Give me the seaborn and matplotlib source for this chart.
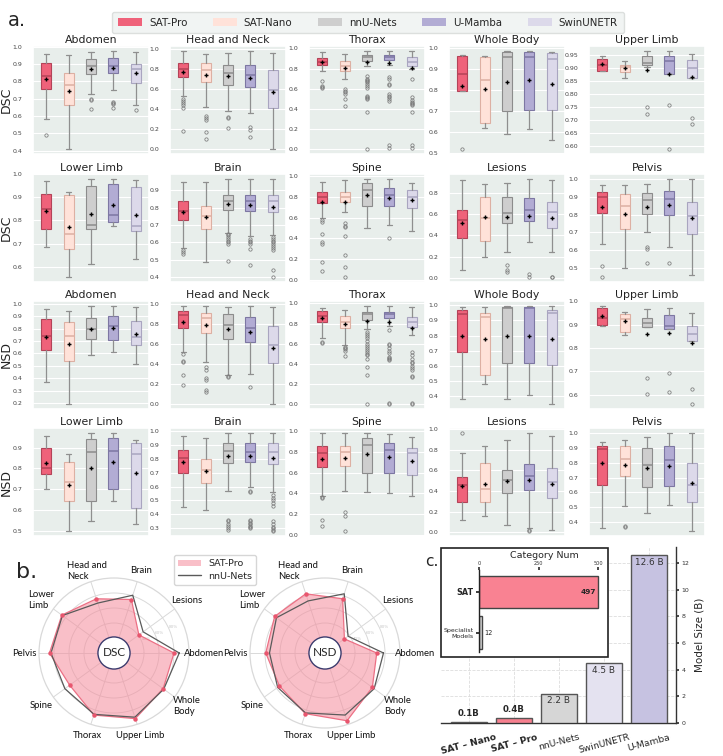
import numpy as np
import matplotlib
matplotlib.use('Agg')
import matplotlib.pyplot as plt
import seaborn as sns
from matplotlib.patches import Patch, Rectangle, Circle
from matplotlib.lines import Line2D
from matplotlib.ticker import MaxNLocator

# ---------------- data ----------------
models = ['SAT-Pro', 'SAT-Nano', 'nnU-Nets', 'U-Mamba', 'SwinUNETR']
box_colors = ['#EF627A', '#FFE2D9', '#CECECE', '#B2ACD4', '#DCD9EA']
median_colors = ['#B44358', '#DDB0A3', '#8C8C8C', '#7D77A3', '#A9A5C0']

regions_row1 = ['Abdomen', 'Head and Neck', 'Thorax', 'Whole Body', 'Upper Limb']
regions_row2 = ['Lower Limb', 'Brain', 'Spine', 'Lesions', 'Pelvis']

# box stats per model: (whislo, q1, median, q3, whishi, mean)
dsc_abdomen = [(0.585, 0.755, 0.83, 0.905, 0.96, 0.815), (0.41, 0.665, 0.78, 0.85, 0.95, 0.745),
               (0.725, 0.84, 0.89, 0.93, 0.97, 0.87), (0.75, 0.845, 0.89, 0.935, 0.975, 0.875),
               (0.665, 0.79, 0.87, 0.90, 0.97, 0.845)]
dsc_abdomen_out = [[0.49], [], [0.70, 0.69, 0.64], [0.68, 0.675, 0.67, 0.645], [0.635]]

dsc_headneck = [(0.53, 0.715, 0.80, 0.855, 0.98, 0.77), (0.42, 0.67, 0.785, 0.855, 0.945, 0.735),
                (0.385, 0.635, 0.76, 0.835, 0.955, 0.725), (0.365, 0.62, 0.74, 0.84, 0.975, 0.705),
                (0.0, 0.415, 0.585, 0.79, 0.955, 0.565)]
dsc_headneck_out = [[0.50, 0.48, 0.46, 0.44, 0.41, 0.18], [0.33, 0.31, 0.29, 0.17, 0.10],
                    [0.32, 0.31, 0.21], [0.22, 0.19, 0.12], []]

dsc_thorax = [(0.775, 0.835, 0.865, 0.90, 0.96, 0.865), (0.695, 0.78, 0.83, 0.875, 0.945, 0.81),
              (0.83, 0.875, 0.91, 0.935, 0.975, 0.86), (0.84, 0.88, 0.91, 0.935, 0.97, 0.85),
              (0.80, 0.825, 0.865, 0.91, 0.97, 0.805)]
dsc_thorax_out = [[0.68, 0.63, 0.62, 0.61], [0.60, 0.58, 0.57, 0.55, 0.50, 0.43],
                  [0.73, 0.70, 0.69, 0.68, 0.67, 0.65, 0.63, 0.61, 0.53, 0.52, 0.51, 0.50, 0.37, 0.0],
                  [0.72, 0.70, 0.65, 0.64, 0.55, 0.53, 0.52, 0.50, 0.48, 0.04, 0.01],
                  [0.70, 0.52, 0.49, 0.47, 0.46, 0.45, 0.44, 0.37, 0.04, 0.01]]

dsc_wholebody = [(0.795, 0.795, 0.875, 0.96, 0.965, 0.82), (0.62, 0.645, 0.845, 0.955, 0.96, 0.805),
                 (0.59, 0.70, 0.955, 0.98, 0.985, 0.84), (0.615, 0.705, 0.955, 0.98, 0.985, 0.845),
                 (0.565, 0.705, 0.945, 0.975, 0.98, 0.83)]
dsc_wholebody_out = [[0.52], [], [], [], []]

dsc_upperlimb = [(0.888, 0.89, 0.91, 0.935, 0.945, 0.915), (0.862, 0.885, 0.905, 0.91, 0.925, 0.898),
                 (0.905, 0.91, 0.92, 0.945, 0.965, 0.892), (0.875, 0.875, 0.925, 0.945, 0.965, 0.875),
                 (0.86, 0.86, 0.90, 0.93, 0.955, 0.865)]
dsc_upperlimb_out = [[], [], [0.75, 0.725], [0.76, 0.59], [0.71, 0.685]]

dsc_lowerlimb = [(0.685, 0.765, 0.85, 0.915, 0.97, 0.84), (0.555, 0.675, 0.74, 0.91, 0.925, 0.77),
                 (0.61, 0.765, 0.78, 0.95, 0.98, 0.83), (0.775, 0.795, 0.825, 0.96, 0.98, 0.865),
                 (0.635, 0.755, 0.775, 0.945, 0.975, 0.825)]
dsc_lowerlimb_out = [[], [], [], [], []]

dsc_brain = [(0.565, 0.73, 0.78, 0.84, 0.945, 0.775), (0.485, 0.675, 0.75, 0.81, 0.95, 0.745),
             (0.655, 0.785, 0.84, 0.875, 0.965, 0.82), (0.635, 0.78, 0.84, 0.875, 0.965, 0.815),
             (0.64, 0.775, 0.835, 0.875, 0.965, 0.805)]
dsc_brain_out = [[0.555, 0.545, 0.535], [], [0.65, 0.64, 0.63, 0.62, 0.61, 0.60, 0.59, 0.495],
                 [0.62, 0.61, 0.60, 0.59, 0.56, 0.47],
                 [0.63, 0.62, 0.61, 0.60, 0.59, 0.58, 0.57, 0.555, 0.44, 0.40]]

dsc_spine = [(0.60, 0.74, 0.80, 0.84, 0.94, 0.745), (0.655, 0.75, 0.80, 0.84, 0.955, 0.745),
             (0.50, 0.71, 0.865, 0.93, 0.97, 0.815), (0.53, 0.71, 0.82, 0.88, 0.97, 0.785),
             (0.475, 0.695, 0.80, 0.86, 0.935, 0.765)]
dsc_spine_out = [[0.58, 0.56, 0.44, 0.37, 0.35, 0.17, 0.09], [0.55, 0.52, 0.51, 0.42, 0.24, 0.13, 0.03],
                 [], [0.40], []]

dsc_lesions = [(0.075, 0.375, 0.55, 0.64, 0.92, 0.515), (0.20, 0.35, 0.565, 0.76, 0.89, 0.57),
               (0.245, 0.52, 0.61, 0.76, 0.90, 0.575), (0.34, 0.54, 0.645, 0.755, 0.935, 0.585),
               (0.24, 0.47, 0.62, 0.715, 0.925, 0.56)]
dsc_lesions_out = [[], [], [0.12, 0.07, 0.05], [0.03, 0.01], [0.01, 0.005]]

dsc_pelvis = [(0.635, 0.81, 0.90, 0.925, 0.965, 0.84), (0.50, 0.72, 0.85, 0.915, 0.965, 0.805),
              (0.70, 0.805, 0.88, 0.92, 0.97, 0.845), (0.62, 0.80, 0.885, 0.93, 1.0, 0.855),
              (0.46, 0.69, 0.795, 0.87, 1.0, 0.78)]
dsc_pelvis_out = [[0.51, 0.45], [], [0.62, 0.605, 0.53], [0.53], []]

nsd_abdomen = [(0.365, 0.63, 0.745, 0.875, 0.96, 0.73), (0.19, 0.535, 0.745, 0.855, 0.94, 0.675),
               (0.59, 0.72, 0.80, 0.89, 0.985, 0.80), (0.61, 0.71, 0.82, 0.90, 0.985, 0.81),
               (0.515, 0.665, 0.73, 0.86, 0.975, 0.755)]
nsd_abdomen_out = [[], [], [], [], []]

nsd_headneck = [(0.52, 0.76, 0.885, 0.93, 0.98, 0.82), (0.42, 0.705, 0.86, 0.91, 0.975, 0.785),
                (0.295, 0.65, 0.79, 0.895, 0.97, 0.745), (0.305, 0.62, 0.76, 0.87, 0.975, 0.72),
                (0.0, 0.41, 0.59, 0.775, 0.97, 0.56)]
nsd_headneck_out = [[0.50, 0.43, 0.42, 0.29, 0.19], [0.37, 0.34, 0.26, 0.24, 0.14, 0.12],
                    [0.28, 0.27], [0.17], []]

nsd_thorax = [(0.655, 0.815, 0.87, 0.925, 0.95, 0.855), (0.585, 0.755, 0.82, 0.875, 0.935, 0.80),
              (0.75, 0.835, 0.89, 0.915, 0.975, 0.825), (0.78, 0.85, 0.89, 0.91, 0.975, 0.82),
              (0.69, 0.77, 0.82, 0.86, 0.96, 0.755)]
nsd_thorax_out = [[0.62, 0.61], [0.57, 0.56, 0.55, 0.53, 0.48],
                  [0.72, 0.70, 0.68, 0.66, 0.63, 0.60, 0.58, 0.56, 0.54, 0.52, 0.50, 0.49, 0.45, 0.37, 0.29, 0.0],
                  [0.74, 0.60, 0.59, 0.56, 0.53, 0.51, 0.47, 0.46, 0.45, 0.44, 0.01, 0.0],
                  [0.52, 0.49, 0.45, 0.42, 0.41, 0.38, 0.36, 0.34, 0.28, 0.27, 0.01, 0.0]]

nsd_wholebody = [(0.385, 0.695, 0.94, 0.965, 0.99, 0.795), (0.48, 0.54, 0.92, 0.95, 0.985, 0.775),
                 (0.385, 0.62, 0.98, 0.985, 0.995, 0.795), (0.41, 0.62, 0.98, 0.985, 0.995, 0.80),
                 (0.35, 0.61, 0.95, 0.97, 0.995, 0.775)]
nsd_wholebody_out = [[], [], [], [], []]

nsd_upperlimb = [(0.895, 0.90, 0.93, 0.97, 0.98, 0.935), (0.855, 0.87, 0.925, 0.945, 0.955, 0.915),
                 (0.89, 0.89, 0.905, 0.93, 0.965, 0.86), (0.88, 0.88, 0.895, 0.94, 0.97, 0.865),
                 (0.83, 0.83, 0.86, 0.895, 0.95, 0.82)]
nsd_upperlimb_out = [[], [], [0.67, 0.605], [0.695, 0.61], [0.625, 0.56]]

nsd_lowerlimb = [(0.70, 0.775, 0.80, 0.90, 0.955, 0.825), (0.50, 0.645, 0.735, 0.83, 0.87, 0.72),
                 (0.55, 0.645, 0.88, 0.94, 0.97, 0.80), (0.645, 0.70, 0.885, 0.945, 0.97, 0.83),
                 (0.535, 0.61, 0.87, 0.92, 0.935, 0.78)]
nsd_lowerlimb_out = [[], [], [], [], []]

nsd_brain = [(0.455, 0.70, 0.805, 0.865, 0.96, 0.775), (0.435, 0.625, 0.72, 0.80, 0.95, 0.71),
             (0.565, 0.77, 0.855, 0.915, 0.985, 0.82), (0.60, 0.775, 0.85, 0.915, 0.985, 0.82),
             (0.56, 0.765, 0.85, 0.915, 0.985, 0.805)]
nsd_brain_out = [[], [], [0.36, 0.35, 0.33, 0.32, 0.30, 0.29],
                 [0.57, 0.56, 0.36, 0.35, 0.34, 0.33, 0.32, 0.31, 0.30],
                 [0.54, 0.52, 0.50, 0.48, 0.46, 0.35, 0.33, 0.31, 0.30, 0.29, 0.28]]

nsd_spine = [(0.38, 0.655, 0.79, 0.85, 0.975, 0.73), (0.42, 0.665, 0.80, 0.85, 0.975, 0.735),
             (0.415, 0.60, 0.865, 0.935, 0.98, 0.78), (0.40, 0.595, 0.815, 0.885, 0.97, 0.745),
             (0.38, 0.575, 0.785, 0.84, 0.94, 0.715)]
nsd_spine_out = [[0.37, 0.36, 0.15, 0.09], [0.22, 0.18, 0.04], [], [], []]

nsd_lesions = [(0.115, 0.29, 0.455, 0.535, 0.765, 0.45), (0.155, 0.295, 0.415, 0.67, 0.835, 0.465),
               (0.07, 0.38, 0.51, 0.60, 0.895, 0.50), (0.04, 0.405, 0.55, 0.66, 0.96, 0.51),
               (0.02, 0.33, 0.49, 0.62, 0.935, 0.47)]
nsd_lesions_out = [[0.965], [], [], [0.02, 0.01], []]

nsd_pelvis = [(0.36, 0.65, 0.895, 0.915, 0.94, 0.795), (0.51, 0.71, 0.825, 0.915, 0.95, 0.785),
              (0.46, 0.635, 0.785, 0.90, 0.97, 0.765), (0.515, 0.64, 0.815, 0.91, 1.0, 0.78),
              (0.34, 0.535, 0.65, 0.80, 1.0, 0.66)]
nsd_pelvis_out = [[], [0.375, 0.365], [], [], []]

# radar (panel b)
radar_labels = ['Abdomen', 'Lesions', 'Brain', 'Head and\nNeck', 'Lower\nLimb',
                'Pelvis', 'Spine', 'Thorax', 'Upper Limb', 'Whole\nBody']
radar_dsc_sat = [0.80, 0.41, 0.75, 0.76, 0.86, 0.86, 0.73, 0.87, 0.92, 0.81]
radar_dsc_nnu = [0.87, 0.48, 0.81, 0.70, 0.85, 0.84, 0.81, 0.86, 0.90, 0.82]
radar_nsd_sat = [0.69, 0.32, 0.76, 0.83, 0.83, 0.79, 0.75, 0.85, 0.95, 0.78]
radar_nsd_nnu = [0.78, 0.38, 0.83, 0.73, 0.80, 0.74, 0.78, 0.84, 0.87, 0.81]

# model size (panel c)
size_models = ['SAT – Nano', 'SAT – Pro', 'nnU-Nets', 'SwinUNETR', 'U-Mamba']
size_values = [0.1, 0.4, 2.2, 4.5, 12.6]
size_labels = ['0.1B', '0.4B', '2.2 B', '4.5 B', '12.6 B']
size_colors = ['#FBE0D8', '#F7808F', '#D6D6D6', '#E4E2F0', '#C6C2E1']
cat_models = ['SAT', 'Specialist\nModels']
cat_values = [497, 12]

# ---------------- style ----------------
sns.set_theme(style='darkgrid', rc={'axes.facecolor': '#E8EEEB', 'grid.color': 'white',
                                    'grid.linewidth': 0.8})
plt.rcParams['font.family'] = ['DejaVu Sans']

W, H = 723, 756
fig = plt.figure(figsize=(W / 100, H / 100), dpi=100)
fig.patch.set_facecolor('white')


def rect(x0, y0, x1, y1):
    return [x0 / W, 1 - y1 / H, (x1 - x0) / W, (y1 - y0) / H]


def draw_boxes(ax, stats, outliers, title):
    bstats = []
    for (lo, q1, med, q3, hi, mean), fl in zip(stats, outliers):
        bstats.append(dict(whislo=lo, q1=q1, med=med, q3=q3, whishi=hi, mean=mean, fliers=fl))
    res = ax.bxp(bstats, positions=range(len(bstats)), widths=0.45, patch_artist=True,
                 showmeans=True, showfliers=True,
                 meanprops=dict(marker='+', markeredgecolor='black', markersize=3.5, markeredgewidth=1.0),
                 flierprops=dict(marker='o', markersize=2.4, markerfacecolor='none',
                                 markeredgecolor='#7a7a7a', markeredgewidth=0.55),
                 whiskerprops=dict(color='#8f8f8f', linewidth=0.9),
                 capprops=dict(color='#8f8f8f', linewidth=0.9))
    for patch, fc, mc in zip(res['boxes'], box_colors, median_colors):
        patch.set_facecolor(fc)
        patch.set_edgecolor(mc)
        patch.set_linewidth(0.8)
    for line, mc in zip(res['medians'], median_colors):
        line.set_color(mc)
        line.set_linewidth(1.1)
    ax.set_xticks([])
    ax.set_xlim(-0.6, 4.6)
    ax.yaxis.set_major_locator(MaxNLocator(nbins=9, steps=[1, 2, 5, 10]))
    ax.grid(axis='x', visible=False)
    ax.tick_params(axis='y', labelsize=4.5, pad=1.5, colors='#444444')
    ax.set_title(title, fontsize=7.8, pad=2.5, color='#222222')


# ---------------- panel a ----------------
col_x = [33, 170, 309, 449, 589]
row_top = [46, 174, 301, 428]
ax_w, ax_h = 116, 108

grid_rows = [
    ('DSC', regions_row1, [dsc_abdomen, dsc_headneck, dsc_thorax, dsc_wholebody, dsc_upperlimb],
     [dsc_abdomen_out, dsc_headneck_out, dsc_thorax_out, dsc_wholebody_out, dsc_upperlimb_out]),
    ('DSC', regions_row2, [dsc_lowerlimb, dsc_brain, dsc_spine, dsc_lesions, dsc_pelvis],
     [dsc_lowerlimb_out, dsc_brain_out, dsc_spine_out, dsc_lesions_out, dsc_pelvis_out]),
    ('NSD', regions_row1, [nsd_abdomen, nsd_headneck, nsd_thorax, nsd_wholebody, nsd_upperlimb],
     [nsd_abdomen_out, nsd_headneck_out, nsd_thorax_out, nsd_wholebody_out, nsd_upperlimb_out]),
    ('NSD', regions_row2, [nsd_lowerlimb, nsd_brain, nsd_spine, nsd_lesions, nsd_pelvis],
     [nsd_lowerlimb_out, nsd_brain_out, nsd_spine_out, nsd_lesions_out, nsd_pelvis_out]),
]

for r, (metric, names, stats_list, out_list) in enumerate(grid_rows):
    for c in range(5):
        ax = fig.add_axes(rect(col_x[c], row_top[r], col_x[c] + ax_w, row_top[r] + ax_h))
        draw_boxes(ax, stats_list[c], out_list[c], names[c])
    fig.text(6 / W, 1 - (row_top[r] + ax_h / 2) / H, metric, rotation=90, fontsize=9,
             ha='center', va='center', color='#222222')

handles = [Patch(facecolor=col, edgecolor='none') for col in box_colors]
fig.legend(handles, models, loc='center', bbox_to_anchor=(368 / W, 1 - 22.5 / H), ncol=5,
           fontsize=7.4, frameon=True, facecolor='#EEF2F0', edgecolor='#D5D9D7',
           handlelength=2.3, handleheight=0.8, handletextpad=0.7, columnspacing=2.5,
           borderpad=0.55)
fig.text(8 / W, 1 - 20 / H, 'a.', fontsize=14, va='center')

# ---------------- panel b ----------------
angles = np.linspace(0, 2 * np.pi, len(radar_labels), endpoint=False)


def draw_radar(ax, sat_vals, nnu_vals, name):
    ax.set_facecolor('white')
    th = np.append(angles, angles[0])
    sv = np.append(sat_vals, sat_vals[0])
    nv = np.append(nnu_vals, nnu_vals[0])
    ax.fill(th, sv, color='#F58C9C', alpha=0.55, zorder=2, linewidth=0)
    ax.plot(th, sv, color='#EC7085', linewidth=0.9, zorder=3)
    ax.plot(angles, sat_vals, 'o', color='#E8566E', markersize=2.2, zorder=4)
    ax.plot(th, nv, color='#5a5a5a', linewidth=0.9, zorder=3)
    ax.set_ylim(0, 1)
    ax.set_xticks(angles)
    ax.set_xticklabels([])
    ax.set_rgrids([0.2, 0.4, 0.6, 0.8], labels=['', '40%', '60%', '80%'], angle=24,
                  fontsize=3, color='#c8c8c8')
    ax.grid(color='#d9d9d9', linewidth=0.7)
    ax.spines['polar'].set_color('#d9d9d9')
    ax.spines['polar'].set_linewidth(0.9)
    for a, lab in zip(angles, radar_labels):
        rr = 1.2 if abs(np.cos(a)) > 0.75 else 1.15
        ax.text(a, rr, lab, fontsize=6.8, ha='center', va='center', family='Lato',
                multialignment='left', color='#111111')
    ax.add_patch(Circle((0.5, 0.5), 0.107, transform=ax.transAxes, facecolor='white',
                        edgecolor='#3c3c6e', linewidth=1.0, zorder=6))
    ax.text(0.5, 0.5, name, transform=ax.transAxes, fontsize=8.5, ha='center', va='center',
            zorder=7, family='Lato')


ax_dsc = fig.add_axes(rect(39, 578, 189, 728), projection='polar')
draw_radar(ax_dsc, radar_dsc_sat, radar_dsc_nnu, 'DSC')
ax_nsd = fig.add_axes(rect(250, 578, 400, 728), projection='polar')
draw_radar(ax_nsd, radar_nsd_sat, radar_nsd_nnu, 'NSD')

fig.legend([Patch(facecolor='#F58C9C', alpha=0.55, edgecolor='none'),
            Line2D([0], [0], color='#5a5a5a', linewidth=1)],
           ['SAT-Pro', 'nnU-Nets'], loc='center', bbox_to_anchor=(215 / W, 1 - 570 / H),
           fontsize=6.8, frameon=True, facecolor='white', edgecolor='#cccccc',
           handlelength=2.4, borderpad=0.45, labelspacing=0.35)
fig.text(16 / W, 1 - 572 / H, 'b.', fontsize=16, va='center')

# ---------------- panel c ----------------
ax_c = fig.add_axes(rect(441, 547, 676, 723))
ax_c.set_facecolor('white')
sns.barplot(x=size_models, y=size_values, hue=size_models, palette=size_colors, legend=False,
            saturation=1, width=0.8, edgecolor='#555555', linewidth=1.0, ax=ax_c, zorder=3)
ax_c.set_xlim(-0.62, 4.6)
ax_c.set_ylim(0, 13.2)
ax_c.grid(True, linestyle='--', color='#dddddd', linewidth=0.6)
ax_c.set_axisbelow(True)
for side in ['left', 'top']:
    ax_c.spines[side].set_visible(False)
for side in ['bottom', 'right']:
    ax_c.spines[side].set_visible(True)
    ax_c.spines[side].set_color('#333333')
    ax_c.spines[side].set_linewidth(1.0)
ax_c.yaxis.tick_right()
ax_c.yaxis.set_label_position('right')
ax_c.set_yticks([0, 2, 4, 6, 8, 10, 12])
ax_c.tick_params(axis='y', labelsize=4.5, right=True, length=2, pad=2, colors='#333333')
ax_c.set_ylabel('Model Size (B)', fontsize=7.5, labelpad=4)
ax_c.set_xticks(range(len(size_models)))
ax_c.set_xticklabels(size_models, rotation=15, fontsize=6.6, ha='center')
ax_c.tick_params(axis='x', pad=1)
for lbl in ax_c.get_xticklabels()[:2]:
    lbl.set_fontweight('bold')
for i, (v, t) in enumerate(zip(size_values, size_labels)):
    if i < 2:
        ax_c.text(i, v + 0.3, t, ha='center', va='bottom', fontsize=6.2, fontweight='bold', zorder=4)
    else:
        ax_c.text(i, v - 0.2, t, ha='center', va='top', fontsize=6.4, color='#333333', zorder=4)

fig.add_artist(Rectangle((441 / W, 1 - 657 / H), (608 - 441) / W, (657 - 548) / H,
                         transform=fig.transFigure, facecolor='white', edgecolor='#222222',
                         linewidth=1.2, zorder=2))
ax_in = fig.add_axes(rect(479, 570, 602, 652))
ax_in.set_zorder(3)
ax_in.set_facecolor('none')
sns.barplot(x=cat_values, y=cat_models, hue=cat_models, palette=['#F98292', '#D9D9D9'],
            legend=False, orient='h', saturation=1, width=0.8, edgecolor='#444444',
            linewidth=1.0, ax=ax_in)
ax_in.set_xlim(0, 515)
ax_in.set_ylim(1.48, -0.54)
ax_in.grid(False)
ax_in.xaxis.tick_top()
ax_in.set_xticks([0, 250, 500])
ax_in.tick_params(axis='x', labelsize=3.6, length=2, pad=1, top=True, colors='#333333')
ax_in.tick_params(axis='y', length=2, left=True, pad=2)
ax_in.set_yticks([0, 1])
ax_in.set_yticklabels(cat_models)
ylabs = ax_in.get_yticklabels()
ylabs[0].set_fontweight('bold')
ylabs[0].set_fontsize(5.8)
ylabs[1].set_fontsize(4.5)
ylabs[1].set_multialignment('right')
for side in ['top', 'right', 'bottom']:
    ax_in.spines[side].set_visible(False)
ax_in.spines['left'].set_visible(True)
ax_in.spines['left'].set_color('#222222')
ax_in.spines['left'].set_linewidth(1.0)
ax_in.set_xlabel('')
ax_in.set_ylabel('')
ax_in.text(cat_values[0] - 8, 0, str(cat_values[0]), ha='right', va='center', fontsize=5.3,
           fontweight='bold')
ax_in.text(cat_values[1] + 10, 1, str(cat_values[1]), ha='left', va='center', fontsize=4.8)
fig.text(544 / W, 1 - 556 / H, 'Category Num', fontsize=6.8, ha='center', va='center', zorder=4)
fig.text(425 / W, 1 - 562 / H, 'c.', fontsize=11, va='center')

fig.savefig('out.png', dpi=100, facecolor='white')
